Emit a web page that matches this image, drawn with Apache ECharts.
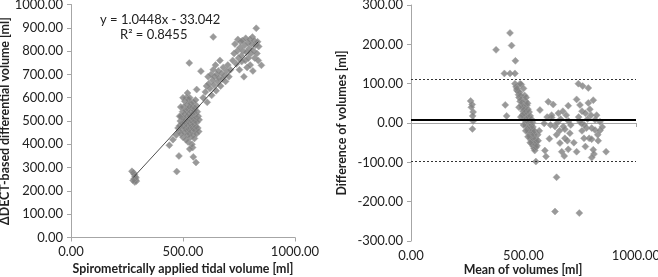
<!DOCTYPE html>
<html>
<head>
<meta charset="utf-8">
<script src="https://cdn.jsdelivr.net/npm/echarts@6/dist/echarts.min.js"></script>
<style>html,body{margin:0;padding:0;background:#fff}#c{width:658px;height:277px}</style>
</head>
<body>
<div id="c"></div>
<script>
// Left chart: [spirometric volume, ΔDECT volume]
const correlationPoints = [
  [272,284],[279,278],[283,270],[286,262],[282,252],[288,247],[292,242],[285,238],[290,256],[277,245],
  [439,396],[472,283],[482,350],[546,346],[558,322],[543,386],[455,420],[470,440],[530,380],
  [478,470],[482,455],[485,480],[488,500],[490,445],[492,520],[495,465],[495,490],[498,540],[500,430],
  [500,510],[502,475],[503,560],[505,495],[506,450],[507,530],[508,585],[510,470],[510,505],[512,545],
  [513,420],[514,490],[515,600],[516,460],[517,520],[518,570],[519,440],[520,500],[521,480],[522,550],
  [523,410],[524,530],[525,465],[526,590],[527,505],[528,445],[529,560],[530,490],[531,520],[532,470],
  [533,430],[534,575],[535,540],[536,500],[537,455],[538,480],[539,515],[540,400],[541,560],[542,470],
  [543,530],[544,495],[545,440],[546,580],[547,510],[548,465],[549,545],[550,485],[551,425],[552,555],
  [553,500],[554,460],[555,530],[556,590],[557,475],[558,515],[560,445],[561,565],[562,495],[564,540],
  [566,470],[568,520],[570,455],[572,505],[500,600],[490,560],[485,520],[520,620],[530,600],
  [528,749],[580,714],[561,635],[590,600],[600,625],[605,650],[608,580],[612,690],[615,660],[620,640],
  [625,700],[628,610],[632,675],[635,720],[638,655],[640,690],[645,740],[648,630],[650,700],[655,670],
  [658,715],[660,685],[665,760],[668,650],[672,705],[675,680],[680,730],[685,695],[690,670],[695,715],
  [700,740],[705,690],[712,720],[635,861],
  [722,760],[728,790],[732,830],[738,745],[742,800],[745,850],[748,770],[752,720],[755,815],[758,840],
  [760,780],[762,755],[765,845],[768,800],[772,690],[775,825],[778,760],[780,855],[783,795],[786,730],
  [790,835],[792,770],[795,810],[798,850],[800,740],[803,790],[806,830],[810,860],[812,715],[815,800],
  [818,845],[820,770],[824,825],[827,898],[830,790],[833,840],[836,760],[838,820],[850,739]
];
// Right chart: [mean of volumes, difference of volumes]
const blandAltmanPoints = [
  [265,56],[272,47],[268,40],[276,28],[274,18],[276,5],[273,-15],
  [378,186],[440,229],[447,197],[464,158],[415,126],[440,126],[462,126],[419,46],[425,18],
  [462,100],[467,92],[470,84],[475,80],[478,72],[472,88],[480,65],[483,78],[485,55],[487,70],
  [490,60],[492,45],[494,52],[496,38],[498,30],[500,42],[502,25],[504,35],[505,18],[507,10],
  [508,28],[510,5],[511,20],[512,-3],[514,12],[515,-8],[516,2],[518,-15],[519,8],[520,-5],
  [521,-20],[522,15],[523,0],[524,-12],[525,-25],[526,5],[527,-30],[528,-8],[529,-18],[530,-35],
  [531,-2],[532,-40],[533,-12],[534,-25],[535,-45],[536,-5],[537,-30],[538,-50],[539,-18],[540,-38],
  [541,-55],[542,-10],[543,-25],[544,-60],[545,-42],[546,-30],[547,-65],[548,-50],[549,-20],[550,-70],
  [552,-55],[553,-40],[555,-62],[557,-48],[560,-58],[563,-30],[565,-45],[570,-20],[573,33],[490,98],
  [500,88],[505,70],[510,55],[515,45],[520,35],[525,28],[530,18],[535,10],[540,2],[512,65],
  [518,50],[495,20],[500,-5],[510,-20],[520,-35],[530,-50],[485,100],[480,40],[488,15],[555,-98],
  [595,-70],[600,-85],[610,54],[632,47],[625,20],[625,14],[592,-1],[640,-9],[647,-30],[699,44],
  [677,-9],[684,-16],[706,-26],[684,-39],[662,-51],[699,-67],[670,-73],[681,-84],[647,-138],[640,-225],
  [620,-5],[655,25],[665,10],[690,20],[700,5],[660,-20],[615,-40],[605,15],[650,0],[675,30],
  [710,-5],[695,-45],
  [724,-50],[736,-73],[744,100],[763,94],[788,89],[736,60],[751,46],[788,51],[810,58],[751,3],
  [758,-1],[818,8],[840,3],[780,-13],[803,-13],[818,-18],[840,-19],[769,-39],[792,-39],[803,-41],
  [832,-45],[810,-68],[813,-79],[803,-88],[867,-73],[748,-229],[760,30],[775,25],[795,35],[825,20],
  [745,15],[770,-5],[785,10],[830,-30],[760,-20],[800,20],[775,-60],[850,-10]
];
const trendSlope = 1.0448;
const trendIntercept = -33.042;
const trendXRange = [278, 836];
const meanDifference = 7.2;
const upperLimit = 111.5;
const lowerLimit = -97;
const leftXTicks = [0, 500, 1000];
const leftYTicks = [0, 1000, 100];
const rightYTicks = [-300, 300, 100];

const trendLine = trendXRange.map(x => [x, trendSlope * x + trendIntercept]);

const FONT = 'Lato';
const axisLine = {show: true, lineStyle: {color: '#a6a6a6', width: 1}};
const axisTick = {show: true, inside: false, length: 4, lineStyle: {color: '#a6a6a6'}};
const axisLabel = {color: '#222', fontFamily: FONT, fontSize: 13, formatter: v => v.toFixed(2)};
const nameStyle = {color: '#222', fontFamily: FONT, fontSize: 12.4, fontWeight: 'bold'};
const marker = {color: '#7f7f7f', borderColor: '#a0a0a0', borderWidth: 0.6};

const chart = echarts.init(document.getElementById('c'), null, {renderer: 'canvas'});
chart.setOption({
  animation: false,
  backgroundColor: '#fff',
  grid: [
    {left: 71, top: 4.5, width: 224, height: 233, outerBoundsMode: 'none', containLabel: false},
    {left: 411, top: 5, width: 225, height: 236, outerBoundsMode: 'none', containLabel: false}
  ],
  xAxis: [
    {gridIndex: 0, type: 'value', min: leftXTicks[0], max: leftXTicks[2], interval: leftXTicks[1],
     splitLine: {show: false}, axisLine, axisTick, axisLabel,
     name: 'Spirometrically applied tidal volume [ml]', nameLocation: 'middle', nameGap: 25, nameTextStyle: nameStyle},
    {gridIndex: 1, type: 'value', min: 0, max: 1000, interval: 500,
     splitLine: {show: false}, axisLine: {onZero: true, show: true, lineStyle: {color: '#a6a6a6'}}, axisTick, axisLabel}
  ],
  yAxis: [
    {gridIndex: 0, type: 'value', min: leftYTicks[0], max: leftYTicks[1], interval: leftYTicks[2],
     splitLine: {show: false}, axisLine, axisTick, axisLabel,
     name: 'ΔDECT-based differential volume [ml]', nameLocation: 'middle', nameGap: 57, nameTextStyle: nameStyle},
    {gridIndex: 1, type: 'value', min: rightYTicks[0], max: rightYTicks[1], interval: rightYTicks[2],
     splitLine: {show: false}, axisLine, axisTick, axisLabel,
     name: 'Difference of volumes [ml]', nameLocation: 'middle', nameGap: 63, nameTextStyle: nameStyle}
  ],
  graphic: [
    {type: 'text', left: 100, top: 13, style: {text: 'y = 1.0448x - 33.042', fill: '#222', font: '13px Lato'}},
    {type: 'text', left: 120, top: 28, style: {text: 'R² = 0.8455', fill: '#222', font: '13px Lato'}},
    {type: 'text', x: 523, y: 270, style: {text: 'Mean of volumes [ml]', fill: '#222', font: 'bold 12.4px Lato', align: 'center', verticalAlign: 'middle'}}
  ],
  series: [
    {type: 'scatter', xAxisIndex: 0, yAxisIndex: 0, data: correlationPoints, symbol: 'diamond', symbolSize: 7, itemStyle: marker, z: 2},
    {type: 'line', xAxisIndex: 0, yAxisIndex: 0, data: trendLine, showSymbol: false, symbol: 'none',
     lineStyle: {color: '#222', width: 0.8}, z: 3},
    {type: 'scatter', xAxisIndex: 1, yAxisIndex: 1, data: blandAltmanPoints, symbol: 'diamond', symbolSize: 7, itemStyle: marker, z: 2,
     markLine: {silent: true, symbol: 'none', label: {show: false},
       data: [
         {yAxis: meanDifference, lineStyle: {color: '#000', width: 2, type: 'solid'}},
         {yAxis: upperLimit, lineStyle: {color: '#333', width: 1, type: [2, 2]}},
         {yAxis: lowerLimit, lineStyle: {color: '#333', width: 1, type: [2, 2]}}
       ]}}
  ]
});
</script>
</body>
</html>
